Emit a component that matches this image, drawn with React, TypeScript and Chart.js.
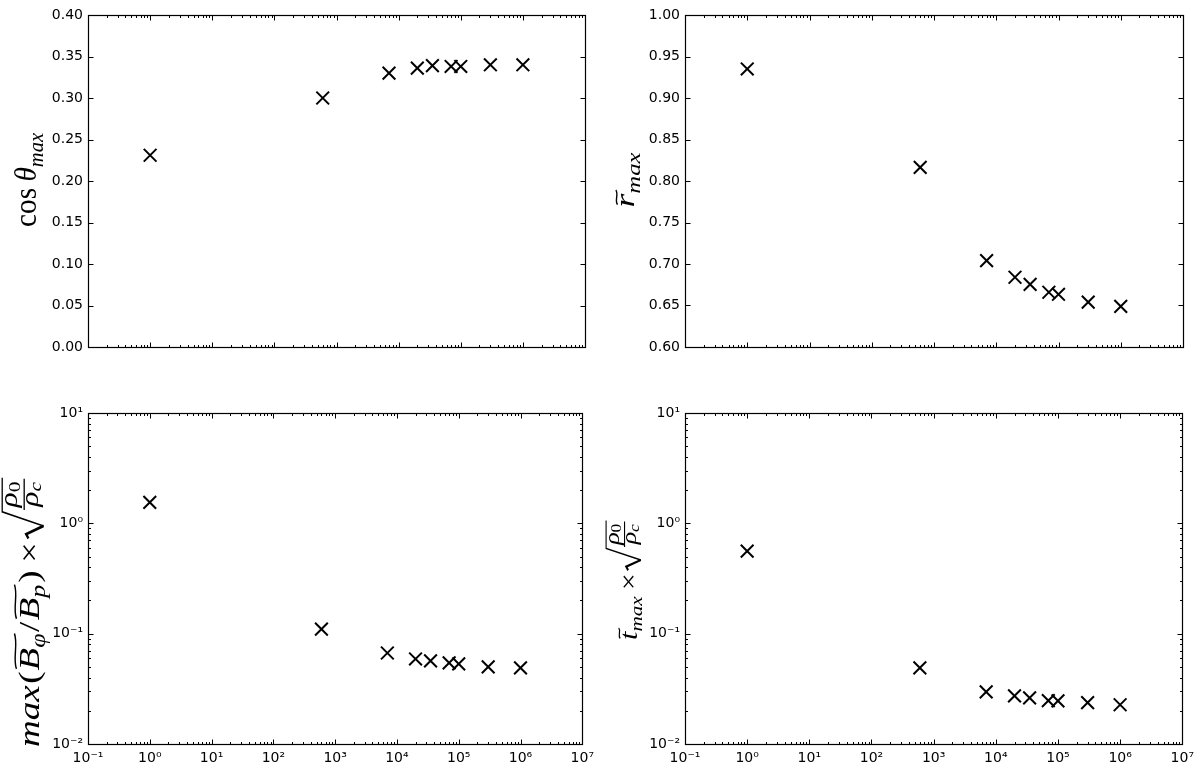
import React, { useEffect, useRef } from 'react';
import { Chart, registerables } from 'chart.js';
Chart.register(...registerables);

// ---------------- data ----------------
const N_VALUES = [1, 600, 7000, 2e4, 3.5e4, 7e4, 1e5, 3e5, 1e6];
const COS_THETA_MAX = [0.231, 0.3, 0.33, 0.336, 0.339, 0.338, 0.338, 0.34, 0.34];
const R_MAX = [0.935, 0.8165, 0.704, 0.684, 0.6755, 0.666, 0.6635, 0.654, 0.649];
const B_RATIO_MAX = [1.55, 0.11, 0.0668, 0.059, 0.0566, 0.0543, 0.0532, 0.05, 0.049];
const T_MAX = [0.56, 0.049, 0.0297, 0.0273, 0.0262, 0.0247, 0.0246, 0.0237, 0.0227];

const LOG_X_TICKS = [0.1, 1, 10, 100, 1e3, 1e4, 1e5, 1e6, 1e7];
const LOG_Y_TICKS = [0.01, 0.1, 1, 10];
const COS_TICKS = [0, 0.05, 0.1, 0.15, 0.2, 0.25, 0.3, 0.35, 0.4];
const R_TICKS = [0.6, 0.65, 0.7, 0.75, 0.8, 0.85, 0.9, 0.95, 1.0];

const SERIF = "'Liberation Serif', 'DejaVu Serif', serif";
const SANS = "'DejaVu Sans', 'Liberation Sans', sans-serif";

const SUP: Record<string, string> = {
  '-': '\u207B', '0': '\u2070', '1': '\u00B9', '2': '\u00B2', '3': '\u00B3',
  '4': '\u2074', '5': '\u2075', '6': '\u2076', '7': '\u2077', '8': '\u2078', '9': '\u2079',
};
function pow10Label(v: number) {
  const e = Math.round(Math.log10(v));
  return '10' + String(e).split('').map((ch) => SUP[ch] || ch).join('');
}

// ---------------- math label renderer ----------------
type Op = (c: CanvasRenderingContext2D) => void;
class MathBox {
  ops: Op[] = [];
  x = 0;
  minY = 0;
  maxY = 0;
  c: CanvasRenderingContext2D;
  constructor(c: CanvasRenderingContext2D) {
    this.c = c;
  }
  ext(a: number, b: number) {
    if (a < this.minY) this.minY = a;
    if (b > this.maxY) this.maxY = b;
  }
  meas(s: string, font: string) {
    this.c.font = font;
    return this.c.measureText(s);
  }
  textAt(s: string, font: string, x0: number, dy: number) {
    const m = this.meas(s, font);
    this.ops.push((cc) => {
      cc.font = font;
      cc.fillText(s, x0, dy);
    });
    const top = dy - m.actualBoundingBoxAscent;
    const bot = dy + m.actualBoundingBoxDescent;
    this.ext(top, bot);
    return { x0, x1: x0 + m.width, top, bot, w: m.width };
  }
  text(s: string, font: string, dy = 0) {
    const r = this.textAt(s, font, this.x, dy);
    this.x = r.x1;
    return r;
  }
  stroke(fn: Op, lw: number, y0: number, y1: number) {
    this.ops.push((cc) => {
      cc.lineWidth = lw;
      cc.lineCap = 'butt';
      cc.lineJoin = 'miter';
      cc.beginPath();
      fn(cc);
      cc.stroke();
    });
    this.ext(y0, y1);
  }
}

const it = (s: number) => `italic ${s}px ${SERIF}`;
const rm = (s: number) => `${s}px ${SERIF}`;

function tilde(mb: MathBox, x0: number, x1: number, y: number, h: number, lw: number) {
  mb.stroke(
    (cc) => {
      const w = x1 - x0;
      cc.moveTo(x0, y + h * 0.5);
      cc.bezierCurveTo(x0 + w * 0.3, y - h * 1.4, x0 + w * 0.7, y + h * 1.4, x1, y - h * 0.5);
    },
    lw,
    y - h,
    y + h
  );
}

function sub(mb: MathBox, s: string, F: number) {
  return mb.text(s, it(0.7 * F), 0.22 * F);
}

function sqrtFrac(mb: MathBox, F: number) {
  const fs = 0.86 * F;
  const ss = 0.58 * F;
  const rho = mb.meas('\u03C1', it(fs));
  const zero = mb.meas('0', rm(ss));
  const cch = mb.meas('c', it(ss));
  const subDy = 0.14 * fs;
  const bar = -0.5 * F;
  const gap = 0.07 * F;
  const numDesc = Math.max(rho.actualBoundingBoxDescent, subDy + zero.actualBoundingBoxDescent);
  const numBase = bar - gap - numDesc;
  const denBase = bar + gap + rho.actualBoundingBoxAscent;
  const denBottom = denBase + Math.max(rho.actualBoundingBoxDescent, subDy + cch.actualBoundingBoxDescent);
  const wn = rho.width + zero.width;
  const wd = rho.width + cch.width;
  const fw = Math.max(wn, wd) + 0.14 * F;
  const xr = mb.x;
  const rw = 0.72 * F;
  const xc = xr + rw + 0.05 * F;
  const top = numBase - rho.actualBoundingBoxAscent - 0.12 * F;
  const bottom = Math.max(denBottom, 0.04 * F) + 0.03 * F;
  const xn = xc + (fw - wn) / 2;
  const xd = xc + (fw - wd) / 2;
  mb.textAt('\u03C1', it(fs), xn, numBase);
  mb.textAt('0', rm(ss), xn + rho.width, numBase + subDy);
  mb.textAt('\u03C1', it(fs), xd, denBase);
  mb.textAt('c', it(ss), xd + rho.width, denBase + subDy);
  const lw = 0.045 * F;
  mb.stroke(
    (cc) => {
      cc.moveTo(xc, bar);
      cc.lineTo(xc + fw, bar);
    },
    lw,
    bar,
    bar
  );
  const mid = bottom - (bottom - top) * 0.4;
  mb.stroke(
    (cc) => {
      cc.moveTo(xr, mid + 0.05 * F);
      cc.lineTo(xr + 0.12 * F, mid - 0.03 * F);
      cc.lineTo(xr + 0.34 * F, bottom);
    },
    lw * 1.7,
    mid - 0.05 * F,
    bottom
  );
  mb.stroke(
    (cc) => {
      cc.moveTo(xr + 0.34 * F, bottom);
      cc.lineTo(xr + rw, top);
      cc.lineTo(xc + fw + 0.03 * F, top);
    },
    lw,
    top - lw,
    bottom
  );
  mb.x = xc + fw + 0.05 * F;
}

function buildLabel(kind: string, c: CanvasRenderingContext2D): MathBox {
  const F = 28;
  const mb = new MathBox(c);
  if (kind === 'cos') {
    mb.text('cos', rm(F));
    mb.x += 0.22 * F;
    mb.text('\u03B8', it(F));
    sub(mb, 'max', F);
  } else if (kind === 'r') {
    const r = mb.text('r', it(F));
    tilde(mb, r.x0 + 0.08 * F, r.x1 + 0.1 * F, r.top - 0.16 * F, 0.06 * F, 0.05 * F);
    sub(mb, 'max', F);
  } else if (kind === 'b') {
    mb.text('max', it(F));
    mb.x += 0.04 * F;
    mb.text('(', rm(F));
    mb.x += 0.03 * F;
    const b1 = mb.text('B', it(F));
    const s1 = sub(mb, '\u03C6', F);
    tilde(mb, b1.x0 + 0.04 * F, s1.x1, b1.top - 0.16 * F, 0.07 * F, 0.05 * F);
    mb.x += 0.04 * F;
    mb.text('/', rm(F));
    mb.x += 0.04 * F;
    const b2 = mb.text('B', it(F));
    const s2 = sub(mb, 'p', F);
    tilde(mb, b2.x0 + 0.04 * F, s2.x1, b2.top - 0.16 * F, 0.07 * F, 0.05 * F);
    mb.x += 0.05 * F;
    mb.text(')', rm(F));
    mb.x += 0.2 * F;
    mb.text('\u00D7', rm(F));
    mb.x += 0.1 * F;
    sqrtFrac(mb, F);
  } else {
    const t = mb.text('t', it(F));
    tilde(mb, t.x0 + 0.05 * F, t.x1 + 0.12 * F, t.top - 0.14 * F, 0.06 * F, 0.05 * F);
    sub(mb, 'max', F);
    mb.x += 0.2 * F;
    mb.text('\u00D7', rm(F));
    mb.x += 0.1 * F;
    sqrtFrac(mb, F);
  }
  return mb;
}

function drawLabel(ctx: CanvasRenderingContext2D, kind: string, cx: number, cy: number, len: number, hgt: number) {
  ctx.save();
  const mb = buildLabel(kind, ctx);
  const H = mb.maxY - mb.minY;
  const sx = len / mb.x;
  let sy = hgt / H;
  sy = Math.max(0.78 * sx, Math.min(1.15 * sx, sy));
  ctx.translate(cx, cy);
  ctx.rotate(-Math.PI / 2);
  ctx.scale(sx, sy);
  ctx.translate(-mb.x / 2, -(mb.minY + mb.maxY) / 2);
  ctx.fillStyle = '#000';
  ctx.strokeStyle = '#000';
  ctx.textAlign = 'left';
  ctx.textBaseline = 'alphabetic';
  mb.ops.forEach((op) => op(ctx));
  ctx.restore();
}

// ---------------- panels ----------------
type PanelSpec = {
  left: number;
  top: number;
  values: number[];
  logY: boolean;
  yTicks: number[];
  showX: boolean;
  yWidth: number;
  xHeight: number;
  padTop: number;
  padRight: number;
  label: string;
  lcx: number;
  lcy: number;
  llen: number;
  lh: number;
};

function minorLog(ticks: number[]) {
  const out: number[] = [];
  for (let i = 0; i < ticks.length - 1; i++) for (let m = 2; m <= 9; m++) out.push(ticks[i] * m);
  return out;
}

function makeFramePlugin(p: PanelSpec) {
  return {
    id: 'frame',
    afterDraw(chart: any) {
      const { ctx, chartArea: a, scales } = chart;
      const xs = scales.x;
      const ys = scales.y;
      ctx.save();
      ctx.strokeStyle = '#000';
      ctx.lineWidth = 1;
      const line = (x1: number, y1: number, x2: number, y2: number) => {
        ctx.beginPath();
        ctx.moveTo(x1, y1);
        ctx.lineTo(x2, y2);
        ctx.stroke();
      };
      const L = Math.round(a.left) + 0.5;
      const R = Math.round(a.right) + 0.5;
      const T = Math.round(a.top) + 0.5;
      const B = Math.round(a.bottom) + 0.5;
      const xt = (v: number, len: number) => {
        const px = Math.round(xs.getPixelForValue(v)) + 0.5;
        line(px, B, px, B - len);
        line(px, T, px, T + len);
      };
      const yt = (v: number, len: number) => {
        const py = Math.round(ys.getPixelForValue(v)) + 0.5;
        line(L, py, L + len, py);
        line(R, py, R - len, py);
      };
      LOG_X_TICKS.forEach((v) => xt(v, 5));
      minorLog(LOG_X_TICKS).forEach((v) => xt(v, 2.5));
      p.yTicks.forEach((v) => yt(v, 5));
      if (p.logY) minorLog(p.yTicks).forEach((v) => yt(v, 2.5));
      ctx.lineWidth = 1.2;
      ctx.strokeRect(L, T, R - L, B - T);
      drawLabel(ctx, p.label, p.lcx, p.lcy, p.llen, p.lh);
      ctx.restore();
    },
  };
}

function makeConfig(p: PanelSpec): any {
  const yMin = p.yTicks[0];
  const yMax = p.yTicks[p.yTicks.length - 1];
  return {
    type: 'scatter',
    data: {
      datasets: [
        {
          data: N_VALUES.map((x, i) => ({ x, y: p.values[i] })),
          pointStyle: 'crossRot',
          pointRadius: 9,
          pointHoverRadius: 9,
          borderColor: '#000',
          backgroundColor: '#000',
          borderWidth: 2,
          showLine: false,
        },
      ],
    },
    options: {
      responsive: false,
      animation: false,
      events: [],
      layout: { padding: { left: 0, top: p.padTop, right: p.padRight, bottom: 0 } },
      plugins: { legend: { display: false }, tooltip: { enabled: false } },
      scales: {
        x: {
          type: 'logarithmic',
          min: LOG_X_TICKS[0],
          max: LOG_X_TICKS[LOG_X_TICKS.length - 1],
          grid: { display: false, drawTicks: false },
          border: { display: false },
          afterBuildTicks: (s: any) => {
            s.ticks = LOG_X_TICKS.map((v) => ({ value: v }));
          },
          afterFit: (s: any) => {
            s.height = p.xHeight;
          },
          ticks: {
            display: p.showX,
            color: '#000',
            font: { family: SANS, size: 14 },
            padding: 6,
            maxRotation: 0,
            autoSkip: false,
            callback: (v: any) => pow10Label(Number(v)),
          },
        },
        y: {
          type: p.logY ? 'logarithmic' : 'linear',
          min: yMin,
          max: yMax,
          grid: { display: false, drawTicks: false },
          border: { display: false },
          afterBuildTicks: (s: any) => {
            s.ticks = p.yTicks.map((v) => ({ value: v }));
          },
          afterFit: (s: any) => {
            s.width = p.yWidth;
          },
          ticks: {
            color: '#000',
            font: { family: SANS, size: 14 },
            padding: 5,
            autoSkip: false,
            callback: (v: any) => (p.logY ? pow10Label(Number(v)) : Number(v).toFixed(2)),
          },
        },
      },
    },
    plugins: [makeFramePlugin(p)],
  };
}

const PANELS: PanelSpec[] = [
  { left: 0, top: 0, values: COS_THETA_MAX, logY: false, yTicks: COS_TICKS, showX: false, yWidth: 88, xHeight: 39, padTop: 15, padRight: 15, label: 'cos', lcx: 29, lcy: 180, llen: 94, lh: 28 },
  { left: 600, top: 0, values: R_MAX, logY: false, yTicks: R_TICKS, showX: false, yWidth: 85, xHeight: 39, padTop: 15, padRight: 17, label: 'r', lcx: 27.5, lcy: 180, llen: 55, lh: 25 },
  { left: 0, top: 386, values: B_RATIO_MAX, logY: true, yTicks: LOG_Y_TICKS, showX: true, yWidth: 88, xHeight: 28, padTop: 27, padRight: 15, label: 'b', lcx: 25, lcy: 226, llen: 270, lh: 44 },
  { left: 600, top: 386, values: T_MAX, logY: true, yTicks: LOG_Y_TICKS, showX: true, yWidth: 85, xHeight: 28, padTop: 27, padRight: 17, label: 't', lcx: 23.5, lcy: 194, llen: 120, lh: 37 },
];

function Panel({ spec }: { spec: PanelSpec }) {
  const ref = useRef<HTMLCanvasElement | null>(null);
  useEffect(() => {
    if (!ref.current) return;
    const chart = new Chart(ref.current, makeConfig(spec));
    return () => chart.destroy();
  }, [spec]);
  return (
    <canvas
      ref={ref}
      width={600}
      height={386}
      style={{ position: 'absolute', left: spec.left, top: spec.top, width: 600, height: 386 }}
    />
  );
}

export default function App() {
  return (
    <div style={{ position: 'absolute', left: 0, top: 0, width: 1200, height: 772, background: '#fff', overflow: 'hidden' }}>
      {PANELS.map((p, i) => (
        <Panel key={i} spec={p} />
      ))}
    </div>
  );
}
